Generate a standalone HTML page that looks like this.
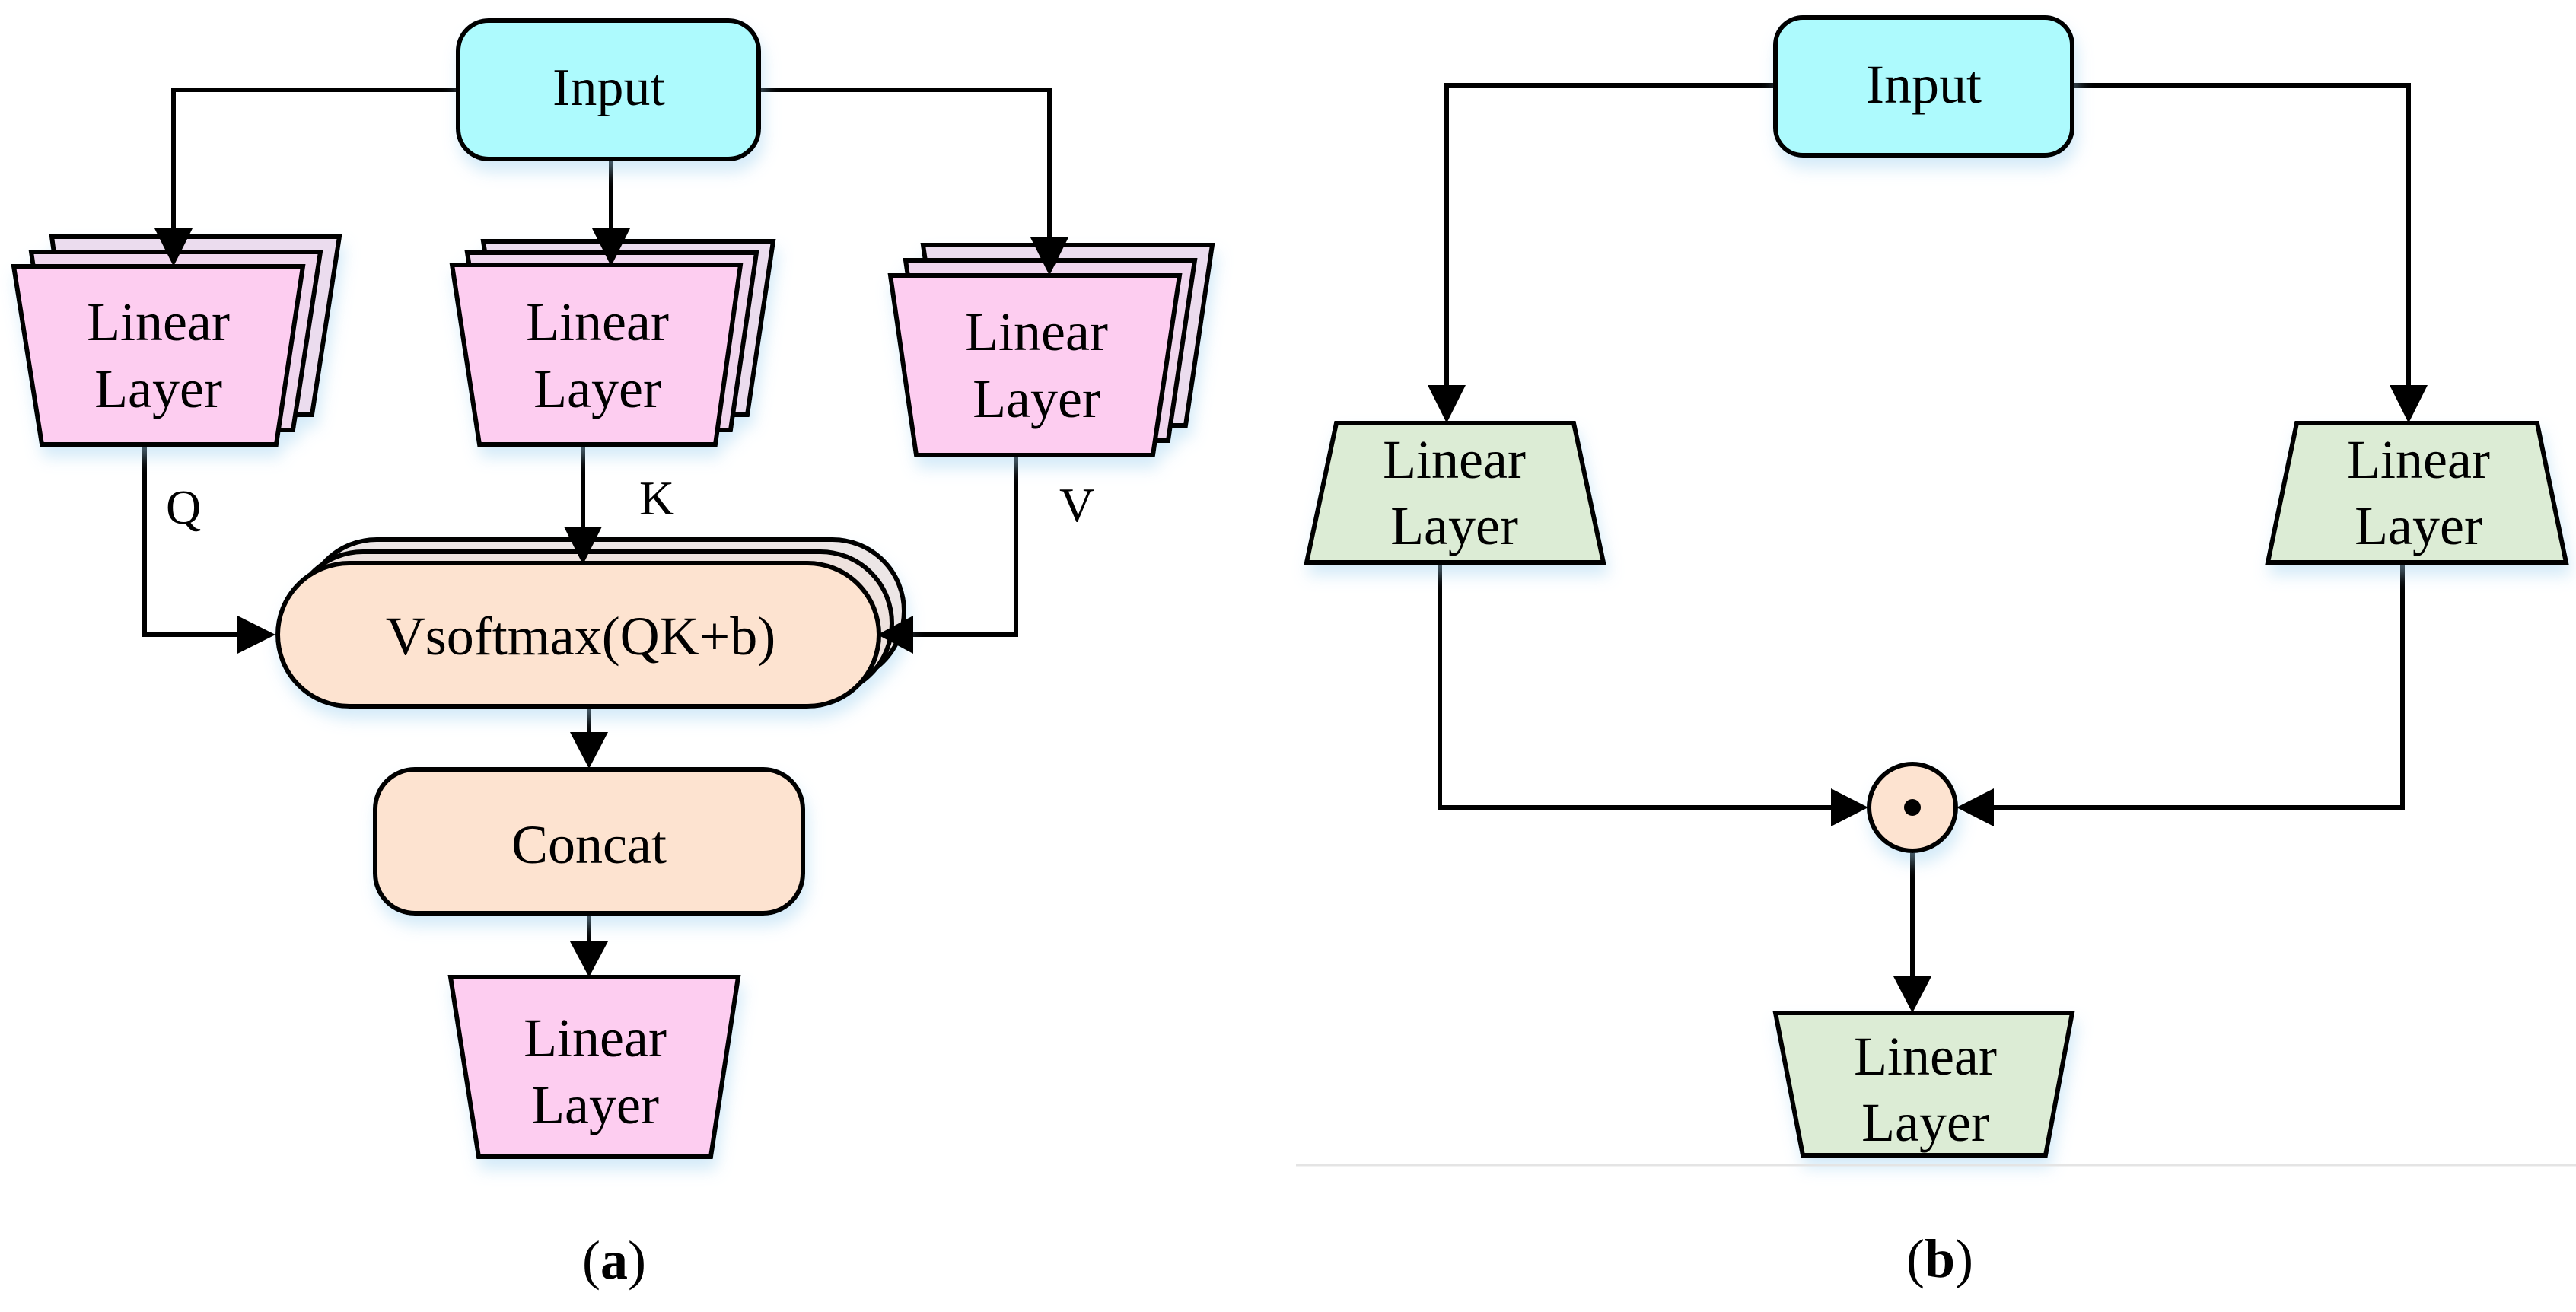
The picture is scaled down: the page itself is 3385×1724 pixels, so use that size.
<!DOCTYPE html>
<html><head><meta charset="utf-8"><style>
html,body{margin:0;padding:0;background:#fff;}
svg{display:block;}
text{font-family:"Liberation Serif",serif;fill:#000;}
</style></head><body>
<svg width="3385" height="1724" viewBox="0 0 3385 1724" xmlns="http://www.w3.org/2000/svg">
<defs>
<filter id="sh" x="-20%" y="-20%" width="140%" height="150%">
<feDropShadow dx="4" dy="14" stdDeviation="10" flood-color="#9fd0f0" flood-opacity="0.45"/>
</filter>
</defs>
<g stroke="#000" stroke-width="6" stroke-linejoin="miter">
<polyline points="605,118 228,118 228,310" fill="none"/>
<line x1="803" y1="209" x2="803" y2="310"/>
<polyline points="997,118 1379,118 1379,322" fill="none"/>
<polyline points="190,584 190,834 315,834" fill="none"/>
<line x1="766" y1="584" x2="766" y2="700"/>
<polyline points="1335,598 1335,834 1200,834" fill="none"/>
<line x1="774" y1="926" x2="774" y2="970"/>
<line x1="774" y1="1200" x2="774" y2="1245"/>
</g>
<!-- Input a -->
<rect x="602" y="27" width="395" height="182" rx="40" fill="#adfafd" stroke="#000" stroke-width="6" filter="url(#sh)"/>
<text x="800" y="138" font-size="70" text-anchor="middle">Input</text>
<!-- Q stack -->
<g stroke="#000" stroke-width="6" filter="url(#sh)">
<polygon points="68,311 446,311 410,545 100,545" fill="#ebdcee"/>
<polygon points="41,331 421,331 385,565 75,565" fill="#f0d6ee"/>
<polygon points="18,350 398,350 363,584 55,584" fill="#fdcdf0"/>
</g>
<!-- K stack -->
<g stroke="#000" stroke-width="6" filter="url(#sh)">
<polygon points="635,317 1016,317 982,545 670,545" fill="#ebdcee"/>
<polygon points="614,332 994,332 960,565 650,565" fill="#f0d6ee"/>
<polygon points="594,348 973,348 940,584 630,584" fill="#fdcdf0"/>
</g>
<!-- V stack -->
<g stroke="#000" stroke-width="6" filter="url(#sh)">
<polygon points="1213,322 1593,322 1558,559 1247,559" fill="#ebdcee"/>
<polygon points="1190,342 1570,342 1535,579 1224,579" fill="#f0d6ee"/>
<polygon points="1170,362 1550,362 1515,598 1204,598" fill="#fdcdf0"/>
</g>
<g font-size="72" text-anchor="middle">
<text x="208" y="447">Linear</text><text x="208" y="535">Layer</text>
<text x="785" y="447">Linear</text><text x="785" y="535">Layer</text>
<text x="1362" y="460">Linear</text><text x="1362" y="548">Layer</text>
</g>
<g font-size="64">
<text x="218" y="688">Q</text>
<text x="840" y="676">K</text>
<text x="1392" y="685">V</text>
</g>
<!-- Vsoftmax stack -->
<g stroke="#000" stroke-width="6" filter="url(#sh)">
<rect x="401" y="709" width="787" height="188" rx="94" fill="#ece6e6"/>
<rect x="383" y="725" width="789" height="188" rx="94" fill="#eee2de"/>
<rect x="365" y="740" width="790" height="188" rx="94" fill="#fde3d0"/>
</g>
<text x="763" y="860" font-size="72" text-anchor="middle">Vsoftmax(QK+b)</text>
<!-- Concat -->
<rect x="493" y="1011" width="562" height="189" rx="52" fill="#fde3d0" stroke="#000" stroke-width="6" filter="url(#sh)"/>
<text x="774" y="1134" font-size="72" text-anchor="middle">Concat</text>
<!-- final linear a -->
<polygon points="592,1284 970,1284 934,1520 629,1520" fill="#fdcdf0" stroke="#000" stroke-width="6" filter="url(#sh)"/>
<text x="782" y="1388" font-size="72" text-anchor="middle">Linear</text>
<text x="782" y="1476" font-size="72" text-anchor="middle">Layer</text>
<text x="807" y="1680" font-size="72" text-anchor="middle">(<tspan font-weight="bold">a</tspan>)</text>
<!-- arrowheads a (on top) -->
<g fill="#000">
<polygon points="203,300 253,300 228,350"/>
<polygon points="778,300 828,300 803,350"/>
<polygon points="1354,312 1404,312 1379,362"/>
<polygon points="741,692 791,692 766,742"/>
<polygon points="312,809 312,859 362,834"/>
<polygon points="1200,809 1200,859 1153,834"/>
<polygon points="749,962 799,962 774,1010"/>
<polygon points="749,1237 799,1237 774,1284"/>
</g>

<!-- Panel b -->
<g stroke="#000" stroke-width="6">
<polyline points="2333,112 1901,112 1901,510" fill="none"/>
<polyline points="2723,112 3165,112 3165,510" fill="none"/>
<polyline points="1892,739 1892,1061 2410,1061" fill="none"/>
<polyline points="3157,739 3157,1061 2615,1061" fill="none"/>
<line x1="2513" y1="1118" x2="2513" y2="1290"/>
</g>
<rect x="2333" y="23" width="390" height="181" rx="36" fill="#adfafd" stroke="#000" stroke-width="6" filter="url(#sh)"/>
<text x="2528" y="135" font-size="72" text-anchor="middle">Input</text>
<g stroke="#000" stroke-width="6" filter="url(#sh)">
<polygon points="1756,556 2068,556 2107,739 1717,739" fill="#dcecd5"/>
<polygon points="3018,556 3334,556 3372,739 2980,739" fill="#dcecd5"/>
<polygon points="2333,1331 2723,1331 2688,1518 2369,1518" fill="#dcecd5"/>
<circle cx="2513" cy="1061" r="57" fill="#fde3d0"/>
</g>
<circle cx="2513" cy="1061" r="11" fill="#000"/>
<g fill="#000">
<polygon points="1876,506 1926,506 1901,556"/>
<polygon points="3140,506 3190,506 3165,556"/>
<polygon points="2406,1036 2406,1086 2455,1061"/>
<polygon points="2620,1036 2620,1086 2571,1061"/>
<polygon points="2488,1283 2538,1283 2513,1331"/>
</g>
<g font-size="72" text-anchor="middle">
<text x="1911" y="628">Linear</text><text x="1911" y="715">Layer</text>
<text x="3178" y="628">Linear</text><text x="3178" y="715">Layer</text>
<text x="2530" y="1412">Linear</text><text x="2530" y="1499">Layer</text>
</g>
<line x1="1703" y1="1531" x2="3385" y2="1531" stroke="#e4e4e4" stroke-width="3"/>
<text x="2549" y="1678" font-size="72" text-anchor="middle">(<tspan font-weight="bold">b</tspan>)</text>
</svg>
</body></html>
